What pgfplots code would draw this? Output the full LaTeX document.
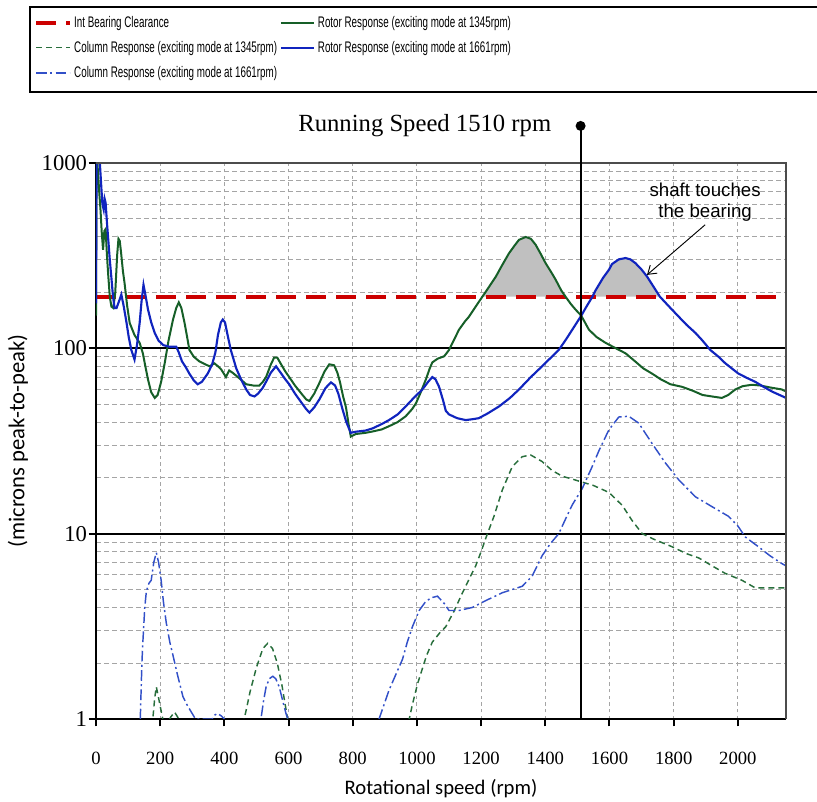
\documentclass[border=0pt]{standalone}
\usepackage{fontspec}
\setmainfont{Liberation Serif}
\newfontfamily\legfont[FakeStretch=0.64]{Liberation Sans}
\newfontfamily\annfont{Liberation Sans}
\newfontfamily\labfont{Carlito}
\usepackage{pgfplots}
\pgfplotsset{compat=1.18}
\usetikzlibrary{arrows.meta}
\definecolor{cred}{RGB}{204,0,0}
\definecolor{cgreen}{RGB}{22,95,40}
\definecolor{cblue}{RGB}{16,36,190}
\definecolor{cblue2}{RGB}{50,80,200}
\definecolor{cgreen2}{RGB}{40,110,60}
\definecolor{gridgray}{RGB}{165,165,165}
\definecolor{fillgray}{RGB}{192,192,192}
\begin{document}
\begin{tikzpicture}
\begin{axis}[
 name=ax, at={(0,0)}, anchor=south west,
 scale only axis, width=517.5pt, height=417pt,
 ymode=log, xmin=0, xmax=2150, ymin=1, ymax=1000,
 clip mode=individual,
 axis x line*=bottom, axis y line*=left,
 axis line style={line width=1.8pt, black},
 xtick={0,200,...,2000}, ytick={1,10,100,1000}, yticklabels={1,10,100,1000},
 tick align=outside, major tick length=5.5pt, minor tick length=0pt,
 tick style={line width=1.5pt, black},
 xmajorgrids, ymajorgrids, yminorgrids,
 major x grid style={gridgray, line width=0.8pt, dash pattern=on 2.5pt off 2.5pt},
 major y grid style={black, line width=1.4pt},
 minor y grid style={gridgray, line width=0.8pt, dash pattern=on 3.5pt off 2.5pt},
 /pgf/number format/assume math mode=true,
 xticklabel style={font=\fontsize{14}{16}\selectfont, /pgf/number format/1000 sep={}, yshift=-16pt},
 yticklabel style={font=\fontsize{17}{19}\selectfont, inner sep=0pt, xshift=-1pt},
 xlabel={Rotational speed (rpm)}, ylabel={(microns peak-to-peak)},
 xlabel style={font=\labfont\fontsize{15.5}{18}\selectfont, at={(axis description cs:0.5,-0.126)}, anchor=center},
 ylabel style={font=\labfont\fontsize{17}{19}\selectfont, at={(axis description cs:-0.113,0.5)}, anchor=center},
 legend columns=2,
 legend cell align=left,
 legend style={at={(axis description cs:-0.0957,1.2806)}, anchor=north west, draw=none, fill=none,
   font=\legfont\fontsize{11.5}{13}\selectfont, inner xsep=3pt, inner ysep=4.6pt, row sep=5pt,
   /tikz/every even column/.append style={column sep=0pt}},
 legend image code/.code={\draw[#1] (0pt,0pt) -- (25pt,0pt);},
]
% shaded areas where the shaft touches the bearing (rotor response above clearance)
\addplot[fill=fillgray, draw=none, forget plot] coordinates {
(1204,190) (1225,215) (1246,244) (1265,280) (1287,326) (1305,360) (1318,385) (1339,399) (1355,390) (1370,362) (1385,325) (1401,288) (1420,255) (1432,235) (1450,205) (1463,190)} -- cycle;
\addplot[fill=fillgray, draw=none, forget plot] coordinates {
(1547,190) (1557,206) (1580,240) (1598,265) (1608,285) (1629,302) (1650,307) (1665,302) (1681,288) (1700,266) (1717,244) (1738,214) (1757,190)} -- cycle;

\addplot[cred, line width=3pt, dash pattern=on 15pt off 7.5pt] coordinates {(0,190) (2150,190)};
\addlegendentry{Int Bearing Clearance}

\addplot[cgreen, line width=1.5pt] coordinates {
(0,150) (2,1200) (6,900) (10,700) (14,560) (18,420) (22,340) (26,430) (30,440) (34,320) (38,250) (43,190) (48,168) (54,165) (60,200) (66,320) (70,390) (74,380) (78,330) (84,260) (89,225) (97,170) (105,137) (120,118) (136,107) (146,94) (155,78) (162,68) (172,58) (183,54) (192,56) (203,66) (214,83) (226,110) (240,143) (250,165) (258,177) (266,165) (276,137) (284,115) (291,98) (305,90) (322,85) (340,82) (354,80) (369,83) (380,80) (390,77) (405,70) (415,76) (425,74) (442,70) (455,67) (468,64) (490,63) (509,63) (520,66) (530,70) (545,82) (555,89) (565,89) (575,83) (590,75) (602,70) (620,63) (640,57) (655,53) (665,52) (680,57) (696,65) (712,75) (727,82) (742,81) (752,74) (760,66) (770,55) (779,48) (787,39) (794,33.4) (810,34.5) (840,35) (862,35.6) (890,36.5) (913,38) (940,40) (965,43) (985,47) (997,50.5) (1012,58) (1028,68) (1040,78) (1048,84) (1065,88) (1085,90.6) (1100,98) (1112,108) (1131,126) (1150,140) (1162,148) (1185,170) (1204,190) (1225,215) (1246,244) (1265,280) (1287,326) (1305,360) (1318,385) (1339,399) (1355,390) (1370,362) (1385,325) (1401,288) (1420,255) (1432,235) (1450,205) (1463,190) (1480,173) (1494,162) (1512,150) (1536,126) (1560,115) (1588,107) (1620,100) (1650,94) (1680,85) (1705,78) (1733,73) (1760,68) (1790,64) (1826,62) (1860,59) (1890,56) (1919,55) (1950,54) (1970,56) (1992,60) (2015,62.5) (2044,63.6) (2070,63) (2100,61.5) (2137,60) (2150,58.5)};
\addlegendentry{Rotor Response (exciting mode at 1345rpm)}

\addplot[cgreen2, line width=1.1pt, dash pattern=on 4.5pt off 3pt] coordinates {
(150,0.3) (177,1.0) (183,1.3) (188,1.49) (195,1.3) (208,1.0) (220,0.9) (232,1.02) (245,1.09) (258,1.0) (270,0.8) (300,0.5) (440,0.5) (462,1.0) (480,1.4) (500,1.9) (520,2.4) (535,2.56) (550,2.4) (565,2.0) (580,1.5) (597,1.0) (610,0.6) (950,0.5) (976,1.0) (986,1.2) (1002,1.55) (1017,1.87) (1030,2.2) (1048,2.6) (1070,2.9) (1090,3.15) (1115,3.8) (1142,4.8) (1165,5.8) (1183,6.7) (1200,8.0) (1214,9.4) (1240,12.4) (1266,17.2) (1297,23) (1328,26) (1354,26.6) (1390,24.5) (1420,22) (1453,20.4) (1480,19.8) (1505,19.2) (1550,18.2) (1598,16.7) (1640,14.2) (1670,11.8) (1702,10.0) (1740,9.3) (1795,8.5) (1840,7.8) (1878,7.4) (1920,6.7) (1961,6.1) (2013,5.6) (2054,5.1) (2100,5.1) (2150,5.1)};
\addlegendentry{Column Response (exciting mode at 1345rpm)}

\addplot[cblue, line width=1.6pt] coordinates {
(0,175) (2,1200) (8,1100) (12,1000) (17,720) (20,600) (24,560) (27,640) (30,610) (34,480) (38,390) (43,300) (48,240) (53,190) (58,165) (64,165) (72,180) (79,195) (86,170) (95,138) (102,115) (110,98) (120,87) (128,105) (136,137) (142,180) (148,220) (155,190) (162,162) (172,138) (183,121) (195,110) (210,104) (229,102) (250,102) (258,95) (268,85) (280,79) (291,73) (305,67) (317,64) (330,66) (348,73) (362,82) (372,95) (380,118) (389,138) (395,143) (402,138) (410,118) (420,98) (437,78) (452,68) (468,60) (480,56) (494,55) (505,57) (519,61) (530,66) (545,74) (561,80) (575,74) (590,68) (602,64) (620,57) (640,51) (655,47) (665,45) (680,48) (696,53) (715,61) (732,65.5) (745,63) (755,57) (768,47) (780,40) (794,35) (810,35.5) (840,36) (862,37) (890,39) (913,41) (940,44) (965,48.6) (990,54) (1017,60) (1035,66) (1048,70) (1058,68) (1069,62) (1082,52) (1090,46) (1100,44) (1125,42) (1152,41) (1175,41.5) (1193,42) (1220,44.5) (1256,48.6) (1290,54) (1318,60) (1355,70) (1390,80) (1420,90) (1442,98) (1465,112) (1484,126) (1512,150) (1530,170) (1547,190) (1557,206) (1580,240) (1598,265) (1608,285) (1629,302) (1650,307) (1665,302) (1681,288) (1700,266) (1717,244) (1738,214) (1757,190) (1790,165) (1816,148) (1840,134) (1868,121) (1890,110) (1914,98) (1940,90) (1961,83) (1985,77) (2002,73) (2030,69) (2054,66) (2080,62) (2106,58.5) (2130,56) (2150,54)};
\addlegendentry{Rotor Response (exciting mode at 1661rpm)}

\addplot[cblue2, line width=1.1pt, dash pattern=on 8pt off 2.5pt on 1.5pt off 2.5pt] coordinates {
(120,0.3) (138,1.0) (143,2.0) (146,2.6) (152,4.0) (157,4.9) (165,5.4) (172,5.6) (180,7.0) (188,7.9) (195,7.0) (203,5.6) (210,4.3) (219,3.3) (230,2.6) (240,2.2) (255,1.7) (271,1.32) (285,1.18) (297,1.09) (310,1.0) (362,1.0) (370,1.05) (379,1.07) (390,1.04) (400,1.0) (410,0.7) (500,0.7) (514,1.0) (522,1.25) (530,1.49) (540,1.65) (551,1.7) (560,1.65) (571,1.49) (582,1.25) (592,1.07) (598,1.0) (610,0.6) (860,0.6) (882,1.0) (913,1.43) (935,1.75) (955,2.1) (970,2.6) (986,3.15) (1007,3.85) (1025,4.25) (1043,4.5) (1064,4.6) (1085,4.2) (1100,3.85) (1131,3.85) (1173,4.0) (1214,4.35) (1266,4.8) (1328,5.2) (1359,5.9) (1390,7.6) (1415,8.8) (1442,10) (1465,12.2) (1484,14.3) (1515,17.5) (1546,23) (1567,28) (1598,36.3) (1629,42.6) (1660,43) (1691,39.5) (1733,30.6) (1774,24.1) (1816,19.5) (1868,15.8) (1919,14.0) (1971,12.4) (2000,11) (2023,9.6) (2064,8.5) (2100,7.6) (2137,6.9) (2150,6.7)};
\addlegendentry{Column Response (exciting mode at 1661rpm)}

\draw[black, line width=1.5pt] (axis description cs:1.2,1.2806) -- (axis description cs:-0.0957,1.2806) -- (axis description cs:-0.0957,1.1277) -- (axis description cs:1.2,1.1277);
\draw[black!70, line width=1pt] (rel axis cs:0,1) -- (rel axis cs:1,1) -- (rel axis cs:1,0);
\draw[black, line width=1.5pt] (axis cs:1510,1) -- (axis cs:1510,1585);
\fill[black] (axis cs:1510,1585) circle[radius=3.75pt];
\node[anchor=base east, font=\fontsize{18.5}{20}\selectfont] at (axis cs:1433,1476) {Running Speed 1510 rpm};
\node[align=center, font=\annfont\fontsize{14}{16}\selectfont] at (axis cs:1898,614) {shaft touches\\the bearing};
\draw[-{Straight Barb[length=6pt,width=8pt]}, line width=0.7pt] (axis cs:1898,464) -- (axis cs:1717,249);
\end{axis}
\pgfresetboundingbox
\path[use as bounding box] ([shift={(-72pt,-62.25pt)}]ax.south west) rectangle ([shift={(23.25pt,122.25pt)}]ax.north east);
\end{tikzpicture}
\end{document}
